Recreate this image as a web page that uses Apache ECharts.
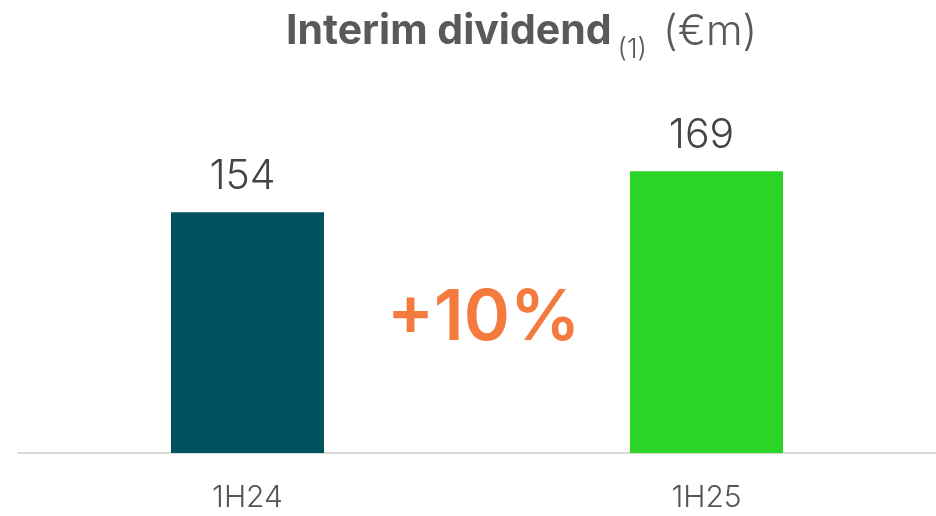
<!DOCTYPE html>
<html>
<head>
<meta charset="utf-8">
<script src="https://cdn.jsdelivr.net/npm/echarts@6/dist/echarts.min.js"></script>
<style>
  html, body { margin: 0; padding: 0; background: #fff; }
  #chart { width: 936px; height: 516px; }
</style>
</head>
<body>
<div id="chart"></div>
<script>
// data
const categories = ["1H24", "1H25"];
const dividends = [154, 169];
const barColors = ["#00525f", "#2cd427"];
const growthLabel = "+10%";

const chart = echarts.init(document.getElementById("chart"));
const font = "Inter, 'Noto Sans', sans-serif";

chart.setOption({
  animation: false,
  title: {
    text: "{b|Interim dividend}{s|(1)}{n|(€m)}",
    left: 281,
    top: 2,
    textStyle: {
      rich: {
        b: { fontFamily: font, fontSize: 41, fontWeight: "bold", color: "#595959", height: 50 },
        s: { fontFamily: font, fontSize: 27, fontWeight: 300, color: "#595959", verticalAlign: "bottom", padding: [0, 16, -6, 6] },
        n: { fontFamily: font, fontSize: 42, fontWeight: 300, color: "#595959" }
      }
    }
  },
  grid: { left: 18, right: 0, top: 100, bottom: 63 },
  xAxis: {
    type: "category",
    data: categories,
    axisLine: { lineStyle: { color: "#d9d9d9", width: 2 } },
    axisTick: { show: false },
    axisLabel: { fontFamily: font, fontSize: 30, fontWeight: 300, color: "#555", margin: 30 }
  },
  yAxis: {
    type: "value",
    min: 66,
    max: 195,
    show: false
  },
  series: [{
    type: "bar",
    barWidth: 153,
    data: dividends.map((v, i) => ({ value: v, itemStyle: { color: barColors[i] } })),
    label: {
      show: true,
      position: "top",
      distance: 15,
      offset: [-5, 0],
      fontFamily: font,
      fontSize: 41,
      fontWeight: 300,
      color: "#444"
    }
  }],
  graphic: [{
    type: "text",
    left: 387,
    top: 284,
    style: {
      text: growthLabel,
      fontFamily: font,
      fontSize: 70,
      fontWeight: 600,
      fill: "#f47a3e"
    }
  }]
});
</script>
</body>
</html>
